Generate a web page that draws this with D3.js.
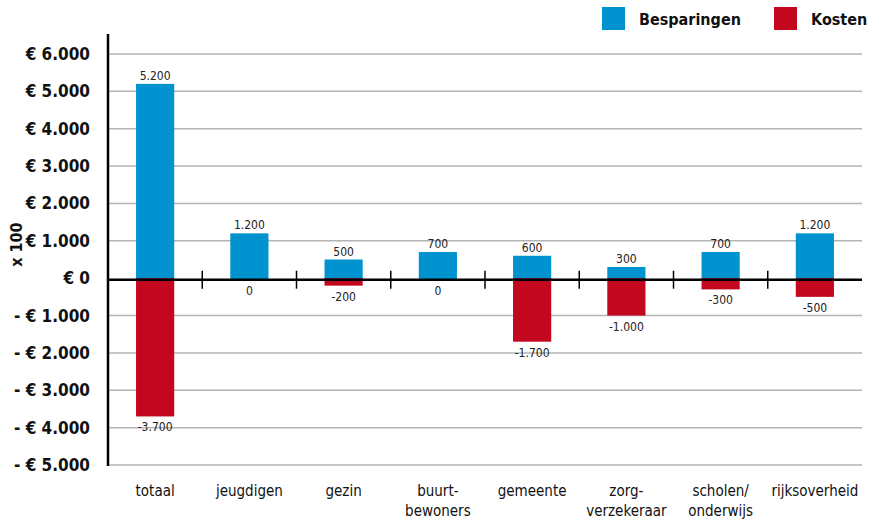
<!DOCTYPE html>
<html>
<head>
<meta charset="utf-8">
<script src="https://cdn.jsdelivr.net/npm/d3@7"></script>
<style>
  body { margin: 0; background: #fff; }
  svg { font-family: "DejaVu Sans Condensed", "DejaVu Sans", sans-serif; }
</style>
</head>
<body>
<div class="canvas"></div>
<script>
// dimensions
const w = 872;
const h = 520;

// data (x 100 euro)
const categories = ["totaal", "jeugdigen", "gezin", "buurt-\nbewoners", "gemeente", "zorg-\nverzekeraar", "scholen/\nonderwijs", "rijksoverheid"];
const besparingen = [5200, 1200, 500, 700, 600, 300, 700, 1200];
const kosten = [-3700, 0, -200, 0, -1700, -1000, -300, -500];
const yTicks = [6000, 5000, 4000, 3000, 2000, 1000, 0, -1000, -2000, -3000, -4000, -5000];

const blue = "#0093d0";
const red = "#c2071e";

const nl = d3.formatLocale({ decimal: ",", thousands: ".", grouping: [3], currency: ["€ ", ""] });
const fmt = nl.format(",d");

const svg = d3.select(".canvas").append("svg").attr("width", w).attr("height", h);

const x = d3.scaleBand().domain(categories).range([108, 862]);
const y = d3.scaleLinear().domain([-5000, 6000]).range([465, 54]);
const barW = x.bandwidth() * 0.405;

// gridlines
svg.append("g")
  .selectAll("line")
  .data(yTicks.filter(d => d !== 0))
  .enter()
  .append("line")
  .attr("x1", 108)
  .attr("x2", 862)
  .attr("y1", d => y(d))
  .attr("y2", d => y(d))
  .attr("stroke", "#b4b4b4")
  .attr("stroke-width", 1.5);

// y labels
svg.append("g")
  .selectAll("text")
  .data(yTicks)
  .enter()
  .append("text")
  .attr("x", 90)
  .attr("y", d => y(d) + 6)
  .attr("text-anchor", "end")
  .attr("font-size", 17)
  .attr("font-weight", "bold")
  .attr("fill", "#111")
  .text(d => d < 0 ? "- € " + fmt(-d) : "€ " + fmt(d));

// x 100 label
svg.append("text")
  .attr("transform", `translate(22, ${y(900)}) rotate(-90)`)
  .attr("text-anchor", "middle")
  .attr("font-size", 16)
  .attr("font-weight", "bold")
  .attr("fill", "#111")
  .text("x 100");

// bars
const cx = d => x(d) + x.bandwidth() / 2;
svg.append("g")
  .selectAll("rect")
  .data(categories)
  .enter()
  .append("rect")
  .attr("x", d => cx(d) - barW / 2)
  .attr("width", barW)
  .attr("y", (d, i) => y(besparingen[i]))
  .attr("height", (d, i) => y(0) - y(besparingen[i]) + 1)
  .attr("fill", blue);

svg.append("g")
  .selectAll("rect")
  .data(categories)
  .enter()
  .append("rect")
  .attr("x", d => cx(d) - barW / 2)
  .attr("width", barW)
  .attr("y", y(0))
  .attr("height", (d, i) => y(kosten[i]) - y(0))
  .attr("fill", red);

// value labels
svg.append("g")
  .selectAll("text")
  .data(categories)
  .enter()
  .append("text")
  .attr("x", cx)
  .attr("y", (d, i) => y(besparingen[i]) - 4)
  .attr("text-anchor", "middle")
  .attr("font-size", 12)
  .attr("fill", "#222")
  .text((d, i) => fmt(besparingen[i]));

svg.append("g")
  .selectAll("text")
  .data(categories)
  .enter()
  .append("text")
  .attr("x", cx)
  .attr("y", (d, i) => y(kosten[i]) + (kosten[i] === 0 ? 17 : 15))
  .attr("text-anchor", "middle")
  .attr("font-size", 12)
  .attr("fill", "#222")
  .text((d, i) => kosten[i] < 0 ? "-" + fmt(-kosten[i]) : fmt(kosten[i]));

// zero line and separators
svg.append("line")
  .attr("x1", 108).attr("x2", 862)
  .attr("y1", y(0) + 1.5).attr("y2", y(0) + 1.5)
  .attr("stroke", "#000").attr("stroke-width", 2.5);

svg.append("g")
  .selectAll("line")
  .data(categories.slice(1))
  .enter()
  .append("line")
  .attr("x1", d => x(d)).attr("x2", d => x(d))
  .attr("y1", y(0) - 7.5).attr("y2", y(0) + 10.5)
  .attr("stroke", "#000").attr("stroke-width", 1.5);

// y axis line
svg.append("line")
  .attr("x1", 108).attr("x2", 108)
  .attr("y1", 34).attr("y2", 466)
  .attr("stroke", "#000").attr("stroke-width", 2.5);

// category labels
const cat = svg.append("g")
  .selectAll("text")
  .data(categories)
  .enter()
  .append("text")
  .attr("x", cx)
  .attr("y", 496)
  .attr("text-anchor", "middle")
  .attr("font-size", 15)
  .attr("fill", "#111");
cat.selectAll("tspan")
  .data(d => d.split("\n"))
  .enter()
  .append("tspan")
  .attr("x", function () { return cx(d3.select(this.parentNode).datum()); })
  .attr("dy", (d, i) => i === 0 ? 0 : 20)
  .text(d => d);

// legend
const legendItems = [{ label: "Besparingen", color: blue, x: 602 }, { label: "Kosten", color: red, x: 774 }];
const lg = svg.append("g").selectAll("g").data(legendItems).enter().append("g");
lg.append("rect")
  .attr("x", d => d.x).attr("y", 7)
  .attr("width", 23).attr("height", 23)
  .attr("fill", d => d.color);
lg.append("text")
  .attr("x", d => d.x + 37).attr("y", 25)
  .attr("font-size", 16).attr("font-weight", "bold")
  .attr("fill", "#111")
  .text(d => d.label);
</script>
</body>
</html>
